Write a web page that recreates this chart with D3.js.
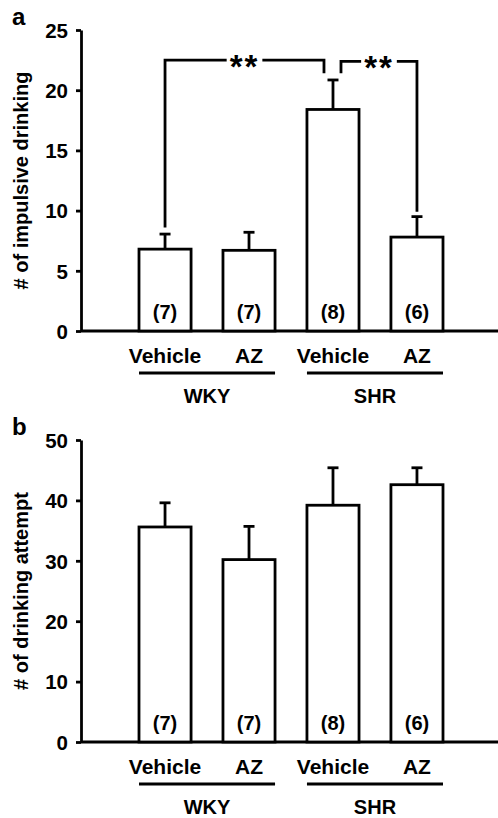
<!DOCTYPE html>
<html>
<head>
<meta charset="utf-8">
<script src="https://cdn.jsdelivr.net/npm/d3@7"></script>
<style>
  body { margin: 0; background: #fff; }
  svg text { font-family: "Liberation Sans", Arial, sans-serif; font-weight: bold; fill: #000; }
</style>
</head>
<body>
<svg id="chart" width="498" height="818"></svg>
<script>
// categories
var treatments = ['Vehicle', 'AZ', 'Vehicle', 'AZ'];
var strains = ['WKY', 'WKY', 'SHR', 'SHR'];
var groups = ['WKY', 'SHR'];
var counts = ['(7)', '(7)', '(8)', '(6)'];

// panel a : # of impulsive drinking
var impulsiveMean = [6.8, 6.7, 18.4, 7.8];
var impulsiveErr = [1.25, 1.5, 2.45, 1.7];
var impulsiveTicks = [0, 5, 10, 15, 20, 25];

// panel b : # of drinking attempt
var attemptMean = [35.6, 30.2, 39.2, 42.6];
var attemptErr = [4.0, 5.5, 6.2, 2.8];
var attemptTicks = [0, 10, 20, 30, 40, 50];

// significance brackets (bar indices, heights in data units)
var sigBrackets = [
  { from: 0, to: 2, top: 22.5, startY: 8.6, endY: 21.4, endShift: -9, label: '**' },
  { from: 2, to: 3, top: 22.4, startY: 21.4, endY: 9.9, startShift: 8, label: '**' }
];

var svg = d3.select('#chart');
var lw = 2.8;

var x = d3.scaleBand()
    .domain(d3.range(treatments.length))
    .range([139, 443])
    .paddingInner(0.38);

function drawPanel(opt) {
  var y = d3.scaleLinear().domain([0, opt.max]).range([opt.bottom, opt.top]);
  var g = svg.append('g');

  // y axis
  var yAxis = g.append('g')
      .attr('transform', 'translate(81,0)')
      .call(d3.axisLeft(y).tickValues(opt.ticks).tickSize(5).tickPadding(8).tickSizeOuter(0));
  yAxis.select('.domain').attr('stroke', '#000').attr('stroke-width', lw);
  yAxis.selectAll('.tick line').attr('stroke', '#000').attr('stroke-width', lw);
  yAxis.selectAll('.tick text')
      .style('font-size', '20.5px')
      .attr('dy', '0.36em');

  // x axis baseline
  g.append('line')
      .attr('x1', 81).attr('x2', 498)
      .attr('y1', y(0)).attr('y2', y(0))
      .attr('stroke', '#000').attr('stroke-width', lw);

  // error bars
  opt.mean.forEach(function(m, i) {
    var cx = x(i) + x.bandwidth() / 2;
    g.append('line')
        .attr('x1', cx).attr('x2', cx)
        .attr('y1', y(m)).attr('y2', y(m + opt.err[i]))
        .attr('stroke', '#000').attr('stroke-width', lw);
    g.append('line')
        .attr('x1', cx - 5.5).attr('x2', cx + 5.5)
        .attr('y1', y(m + opt.err[i])).attr('y2', y(m + opt.err[i]))
        .attr('stroke', '#000').attr('stroke-width', lw);
  });

  // bars
  g.selectAll('rect.bar')
      .data(opt.mean)
      .enter().append('rect')
      .attr('class', 'bar')
      .attr('x', function(d, i) { return x(i); })
      .attr('width', x.bandwidth())
      .attr('y', function(d) { return y(d); })
      .attr('height', function(d) { return y(0) - y(d); })
      .attr('fill', '#fff')
      .attr('stroke', '#000')
      .attr('stroke-width', lw);

  // n in bars
  g.selectAll('text.n')
      .data(counts)
      .enter().append('text')
      .attr('class', 'n')
      .attr('x', function(d, i) { return x(i) + x.bandwidth() / 2; })
      .attr('y', y(0) - 12)
      .attr('text-anchor', 'middle')
      .style('font-size', '20px')
      .text(function(d) { return d; });

  // treatment labels
  g.selectAll('text.trt')
      .data(treatments)
      .enter().append('text')
      .attr('class', 'trt')
      .attr('x', function(d, i) { return x(i) + x.bandwidth() / 2; })
      .attr('y', y(0) + 32)
      .attr('text-anchor', 'middle')
      .style('font-size', '21px')
      .text(function(d) { return d; });

  // group lines + labels
  groups.forEach(function(s) {
    var idx = d3.range(strains.length).filter(function(i) { return strains[i] === s; });
    var x0 = x(idx[0]), x1 = x(idx[idx.length - 1]) + x.bandwidth();
    g.append('line')
        .attr('x1', x0).attr('x2', x1)
        .attr('y1', y(0) + 42).attr('y2', y(0) + 42)
        .attr('stroke', '#000').attr('stroke-width', lw);
    g.append('text')
        .attr('x', (x0 + x1) / 2)
        .attr('y', y(0) + 72)
        .attr('text-anchor', 'middle')
        .style('font-size', '20px')
        .text(s);
  });

  // y title
  g.append('text')
      .attr('transform', 'translate(' + 28 + ',' + (opt.top + opt.bottom) / 2 + ') rotate(-90)')
      .attr('text-anchor', 'middle')
      .style('font-size', '20px')
      .text(opt.title);

  // panel letter
  g.append('text')
      .attr('x', 12)
      .attr('y', opt.top - 5)
      .style('font-size', '24px')
      .text(opt.letter);

  return y;
}

var yA = drawPanel({ mean: impulsiveMean, err: impulsiveErr, ticks: impulsiveTicks, max: 25,
  top: 30, bottom: 331, title: '# of impulsive drinking', letter: 'a' });

drawPanel({ mean: attemptMean, err: attemptErr, ticks: attemptTicks, max: 50,
  top: 440, bottom: 742, title: '# of drinking attempt', letter: 'b' });

// significance brackets on panel a
var sig = svg.append('g');
sigBrackets.forEach(function(b) {
  var xs = x(b.from) + x.bandwidth() / 2 + (b.startShift || 0);
  var xe = x(b.to) + x.bandwidth() / 2 + (b.endShift || 0);
  var path = d3.path();
  path.moveTo(xs, yA(b.startY));
  path.lineTo(xs, yA(b.top));
  path.lineTo(xe, yA(b.top));
  path.lineTo(xe, yA(b.endY));
  sig.append('path')
      .attr('d', path.toString())
      .attr('fill', 'none')
      .attr('stroke', '#000')
      .attr('stroke-width', lw);
  var mid = (xs + xe) / 2;
  var t = sig.append('text')
      .attr('x', mid)
      .attr('y', yA(b.top) + 18)
      .attr('text-anchor', 'middle')
      .style('font-size', '33px')
      .style('letter-spacing', '2px')
      .text(b.label);
  var bb = t.node().getBBox();
  sig.insert('rect', function() { return t.node(); })
      .attr('x', bb.x - 3).attr('width', bb.width + 6)
      .attr('y', yA(b.top) - 3).attr('height', 6)
      .attr('fill', '#fff');
});
</script>
</body>
</html>
